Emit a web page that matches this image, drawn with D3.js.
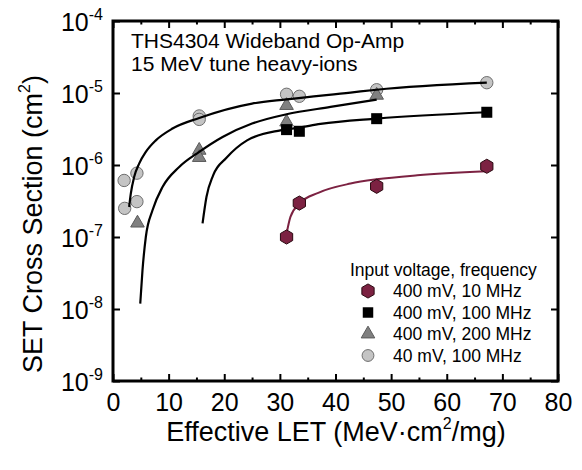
<!DOCTYPE html>
<html lang="en">
<head>
<meta charset="UTF-8">
<script src="https://cdn.jsdelivr.net/npm/d3@7/dist/d3.min.js"></script>
<style>
  body { margin: 0; background: #fff; }
  svg { font-family: Arial, "Liberation Sans", sans-serif; }
</style>
</head>
<body>
<svg width="582" height="470"></svg>
<script>
// measured points (LET in MeV.cm2/mg, cross section in cm2)
const circleLET   = [2.0, 2.1, 4.3, 4.3, 15.5, 15.5, 31.2, 33.5, 47.4, 67.2];
const circleSigma = [6.1e-7, 2.5e-7, 7.7e-7, 3.1e-7, 4.8e-6, 4.3e-6, 9.6e-6, 9.0e-6, 1.11e-5, 1.39e-5];

const triLET   = [4.4, 15.5, 15.5, 31.2, 31.2, 47.4];
const triSigma = [1.56e-7, 1.6e-6, 1.27e-6, 6.7e-6, 3.95e-6, 9.3e-6];

const squareLET   = [31.2, 33.5, 47.4, 67.2];
const squareSigma = [3.1e-6, 2.94e-6, 4.4e-6, 5.4e-6];

const hexLET   = [31.2, 33.5, 47.4, 67.2];
const hexSigma = [1.0e-7, 2.96e-7, 5.06e-7, 9.6e-7];

// fitted curves
const fitCircleLET   = [2.9, 3.2, 3.8, 4.7, 5.9, 7.7, 10.7, 15.5, 25.0, 31.2, 42.7, 47.4, 67.2];
const fitCircleSigma = [2.61e-7, 4.01e-7, 6.81e-7, 1.045e-6, 1.52e-6, 2.2e-6, 3.21e-6, 4.5e-6, 7.13e-6, 8.17e-6, 1.014e-5, 1.11e-5, 1.39e-5];

const fitTriLET   = [4.9, 5.3, 5.9, 7.1, 8.9, 11.9, 15.5, 19.7, 25.0, 31.2, 39.1, 47.4];
const fitTriSigma = [1.19e-8, 3.44e-8, 1.0e-7, 2.35e-7, 4.94e-7, 9.38e-7, 1.52e-6, 2.45e-6, 3.76e-6, 5.06e-6, 6.4e-6, 8.09e-6];

const fitSquareLET   = [16.1, 16.8, 18.0, 20.4, 24.1, 30.1, 33.5, 37.3, 47.4, 67.2];
const fitSquareSigma = [1.55e-7, 3.6e-7, 7.19e-7, 1.26e-6, 2.2e-6, 3.03e-6, 3.31e-6, 3.72e-6, 4.41e-6, 5.4e-6];

const fitHexLET   = [31.2, 31.9, 33.6, 36.9, 42.7, 47.4, 54.7, 67.1];
const fitHexSigma = [1.11e-7, 1.9e-7, 2.96e-7, 4.11e-7, 5.52e-7, 6.32e-7, 7.19e-7, 8.17e-7];

const xMajor = [0, 10, 20, 30, 40, 50, 60, 70, 80];
const xMinor = [5, 15, 25, 35, 45, 55, 65, 75];
const yDecades = [1e-9, 1e-8, 1e-7, 1e-6, 1e-5, 1e-4];

const legendLabels = ["400 mV, 10 MHz", "400 mV, 100 MHz", "400 mV, 200 MHz", "40 mV, 100 MHz"];

const maroon = "#7c2242";

const margin = {top: 21, right: 24, bottom: 89, left: 113};
const width = 582, height = 470;

const x = d3.scaleLinear().domain([0, 80]).range([margin.left, width - margin.right]);
const y = d3.scaleLog().domain([1e-9, 1e-4]).range([height - margin.bottom, margin.top]);

const svg = d3.select("svg");

const zip = (a, b) => a.map((v, i) => [v, b[i]]);

// hexagon symbol
const symbolHex = {
  draw(context, size) {
    const r = Math.sqrt(size / (1.5 * Math.sqrt(3)));
    for (let i = 0; i < 6; i++) {
      const a = Math.PI / 6 + i * Math.PI / 3;
      const px = r * Math.cos(a), py = r * Math.sin(a);
      if (i === 0) context.moveTo(px, py); else context.lineTo(px, py);
    }
    context.closePath();
  }
};

// axes
const gx = svg.append("g").attr("transform", `translate(0,${y.range()[0]})`);
gx.call(d3.axisBottom(x).tickValues(xMajor).tickSize(-7).tickPadding(12).tickFormat(d3.format("d")));
gx.append("g").call(d3.axisBottom(x).tickValues(xMinor).tickSize(-3.5).tickFormat(""));
gx.selectAll(".tick text").attr("font-size", 25).attr("fill", "#000").attr("dy", "0.71em");

const gTop = svg.append("g").attr("transform", `translate(0,${y.range()[1]})`);
gTop.call(d3.axisTop(x).tickValues(xMajor).tickSize(-7).tickFormat(""));
gTop.append("g").call(d3.axisTop(x).tickValues(xMinor).tickSize(-3.5).tickFormat(""));

const gy = svg.append("g").attr("transform", `translate(${x.range()[0]},0)`);
gy.call(d3.axisLeft(y).tickValues(yDecades).tickSize(-7).tickPadding(10).tickFormat(""));
gy.selectAll(".tick text")
  .attr("font-size", 25).attr("fill", "#000").attr("dy", "0.36em")
  .each(function(d) {
    const t = d3.select(this);
    t.append("tspan").text("10");
    t.append("tspan").attr("font-size", 16).attr("dy", -11).text(Math.round(Math.log10(d)));
  });

const gRight = svg.append("g").attr("transform", `translate(${x.range()[1]},0)`);
gRight.call(d3.axisRight(y).tickValues(yDecades).tickSize(-7).tickFormat(""));

svg.selectAll(".domain").remove();
svg.selectAll(".tick line").attr("stroke", "#000").attr("stroke-width", 2);

svg.append("rect")
  .attr("x", x.range()[0]).attr("y", y.range()[1])
  .attr("width", x.range()[1] - x.range()[0])
  .attr("height", y.range()[0] - y.range()[1])
  .attr("fill", "none").attr("stroke", "#000").attr("stroke-width", 3);

// axis titles
const xTitle = svg.append("text")
  .attr("x", 336).attr("y", 441)
  .attr("text-anchor", "middle").attr("font-size", 27);
xTitle.append("tspan").text("Effective LET (MeV\u00b7cm");
xTitle.append("tspan").attr("font-size", 16).attr("dy", -12).text("2");
xTitle.append("tspan").attr("dy", 12).text("/mg)");

const yTitle = svg.append("text")
  .attr("transform", "translate(42,224) rotate(-90)")
  .attr("text-anchor", "middle").attr("font-size", 27);
yTitle.append("tspan").text("SET Cross Section (cm");
yTitle.append("tspan").attr("font-size", 16).attr("dy", -12).text("2");
yTitle.append("tspan").attr("dy", 12).text(")");

// annotation
svg.append("text").attr("x", 131).attr("y", 48).attr("font-size", 21).text("THS4304 Wideband Op-Amp");
svg.append("text").attr("x", 131).attr("y", 71).attr("font-size", 21).text("15 MeV tune heavy-ions");

const line = d3.line()
  .curve(d3.curveMonotoneX)
  .x(d => x(d[0]))
  .y(d => y(d[1]));

const sym = (type, size) => d3.symbol().type(type).size(size);

// circles and triangles under the curves
svg.append("g").selectAll("path")
  .data(zip(circleLET, circleSigma))
  .join("path")
  .attr("transform", d => `translate(${x(d[0])},${y(d[1])})`)
  .attr("d", sym(d3.symbolCircle, 120))
  .attr("fill", "#c4c4c4").attr("stroke", "#6e6e6e").attr("stroke-width", 1);

svg.append("g").selectAll("path")
  .data(zip(triLET, triSigma))
  .join("path")
  .attr("transform", d => `translate(${x(d[0])},${y(d[1])})`)
  .attr("d", sym(d3.symbolTriangle, 80))
  .attr("fill", "#808080").attr("stroke", "#5a5a5a").attr("stroke-width", 1);

// fits
[[fitCircleLET, fitCircleSigma], [fitTriLET, fitTriSigma], [fitSquareLET, fitSquareSigma]].forEach(([a, b]) => {
  svg.append("path")
    .datum(zip(a, b))
    .attr("fill", "none").attr("stroke", "#000").attr("stroke-width", 2.2)
    .attr("d", line);
});
svg.append("path")
  .datum(zip(fitHexLET, fitHexSigma))
  .attr("fill", "none").attr("stroke", maroon).attr("stroke-width", 2)
  .attr("d", line);

svg.append("g").selectAll("path")
  .data(zip(squareLET, squareSigma))
  .join("path")
  .attr("transform", d => `translate(${x(d[0])},${y(d[1])})`)
  .attr("d", sym(d3.symbolSquare, 121))
  .attr("fill", "#000");

svg.append("g").selectAll("path")
  .data(zip(hexLET, hexSigma))
  .join("path")
  .attr("transform", d => `translate(${x(d[0])},${y(d[1])})`)
  .attr("d", sym(symbolHex, 130))
  .attr("fill", maroon).attr("stroke", "#2a0810").attr("stroke-width", 1);

// legend
const legend = svg.append("g").attr("font-size", 17.5);
legend.append("text").attr("x", 350).attr("y", 276).text("Input voltage, frequency");
const legendSyms = [
  {type: symbolHex, size: 130, fill: maroon, stroke: "#2a0810"},
  {type: d3.symbolSquare, size: 110, fill: "#000", stroke: "none"},
  {type: d3.symbolTriangle, size: 80, fill: "#808080", stroke: "#5a5a5a"},
  {type: d3.symbolCircle, size: 110, fill: "#c4c4c4", stroke: "#6e6e6e"}
];
legendLabels.forEach((lab, i) => {
  const yy = 297 + i * 21.5;
  legend.append("path")
    .attr("transform", `translate(368,${yy - 6})`)
    .attr("d", sym(legendSyms[i].type, legendSyms[i].size))
    .attr("fill", legendSyms[i].fill).attr("stroke", legendSyms[i].stroke);
  legend.append("text").attr("x", 393).attr("y", yy).text(lab);
});
</script>
</body>
</html>
